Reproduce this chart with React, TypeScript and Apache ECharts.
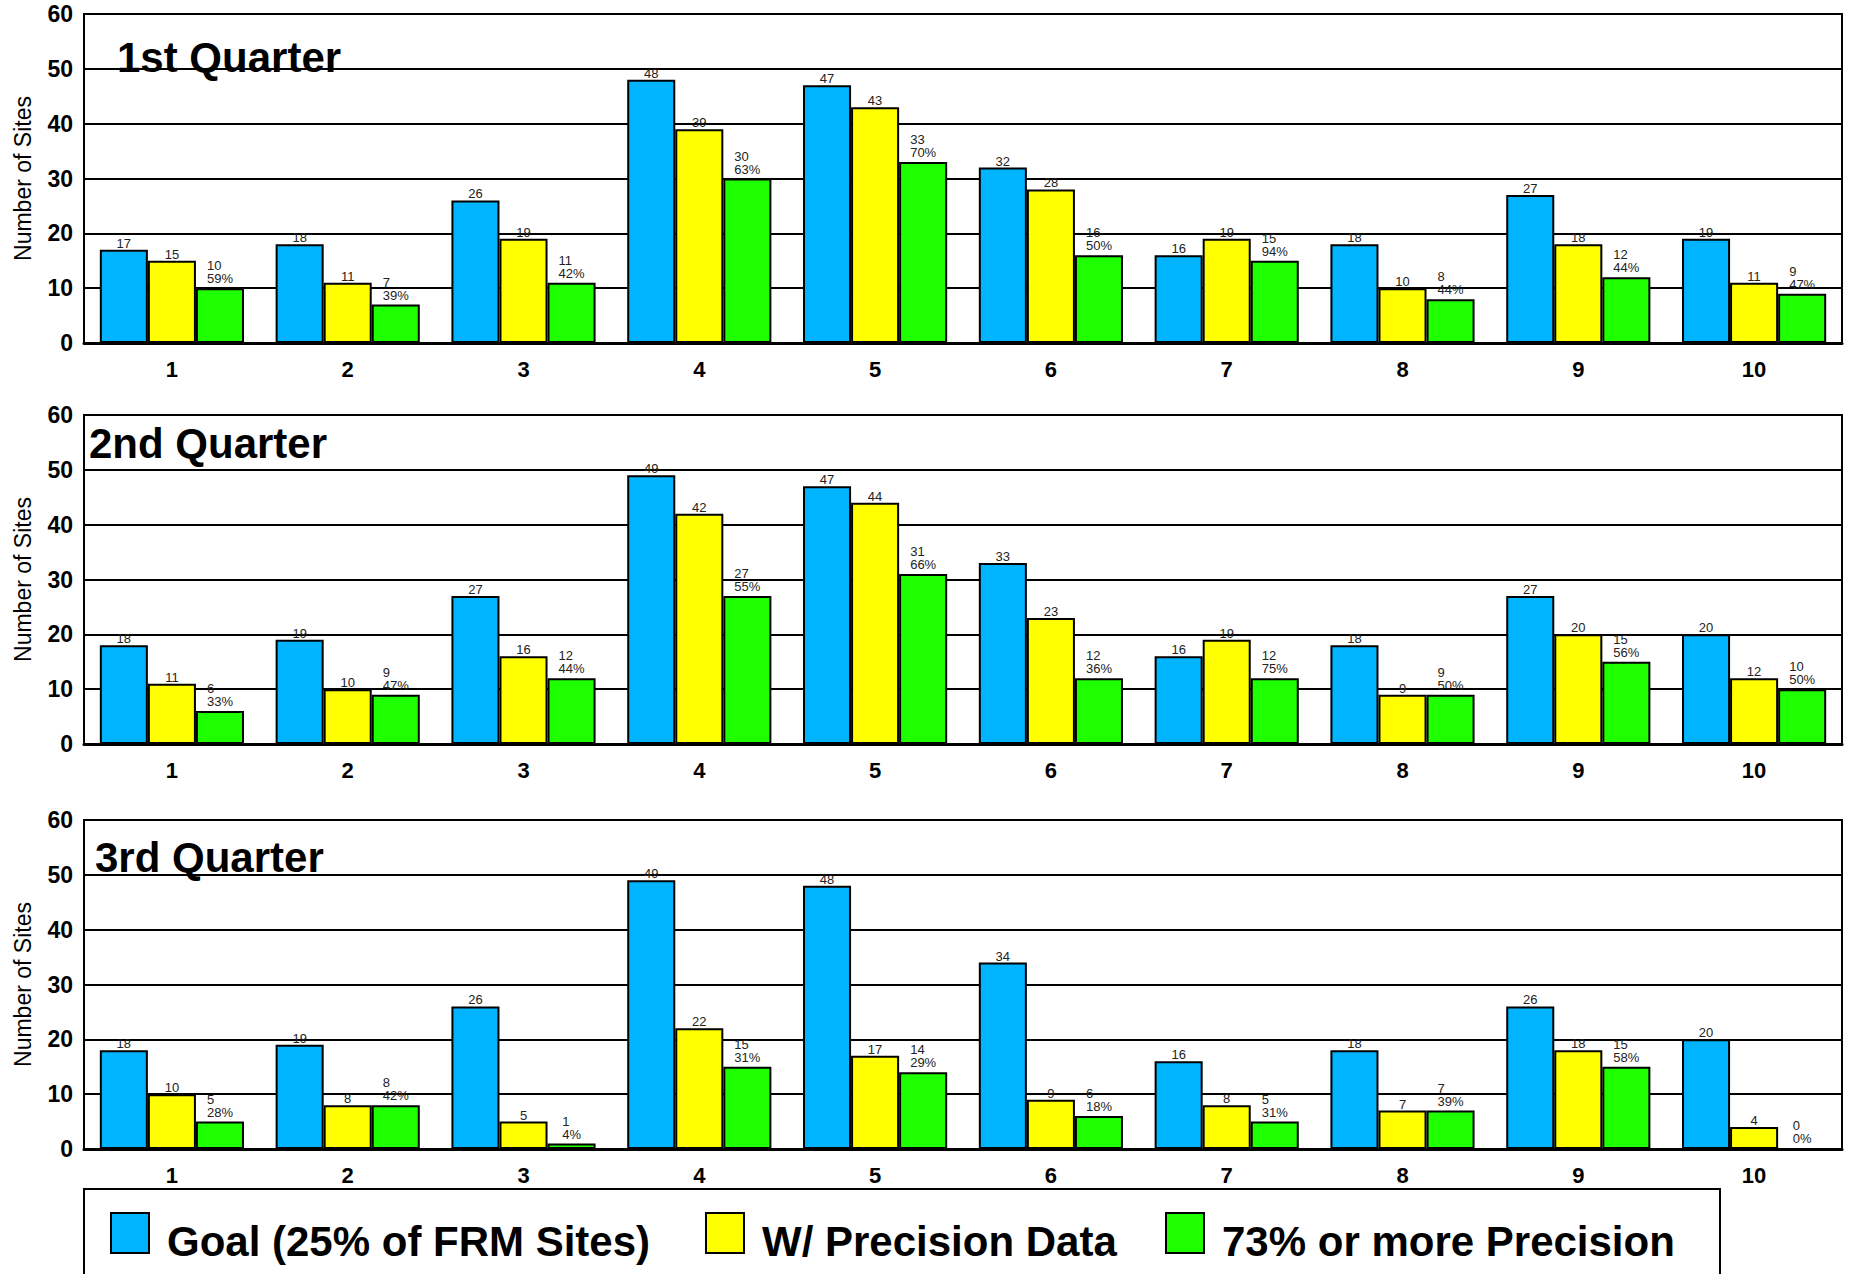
import React, { useEffect, useRef } from "react";
import * as echarts from "echarts";

// ---------- data ----------
const sites = ["1", "2", "3", "4", "5", "6", "7", "8", "9", "10"];
const quarterTitles = ["1st Quarter", "2nd Quarter", "3rd Quarter"];
const seriesNames = ["Goal (25% of FRM Sites)", "W/ Precision Data", "73% or more Precision"];
const yAxisTitle = "Number of Sites";

const q1Goal = [17, 18, 26, 48, 47, 32, 16, 18, 27, 19];
const q1Precision = [15, 11, 19, 39, 43, 28, 19, 10, 18, 11];
const q1High = [10, 7, 11, 30, 33, 16, 15, 8, 12, 9];
const q1Pct = [59, 39, 42, 63, 70, 50, 94, 44, 44, 47];

const q2Goal = [18, 19, 27, 49, 47, 33, 16, 18, 27, 20];
const q2Precision = [11, 10, 16, 42, 44, 23, 19, 9, 20, 12];
const q2High = [6, 9, 12, 27, 31, 12, 12, 9, 15, 10];
const q2Pct = [33, 47, 44, 55, 66, 36, 75, 50, 56, 50];

const q3Goal = [18, 19, 26, 49, 48, 34, 16, 18, 26, 20];
const q3Precision = [10, 8, 5, 22, 17, 9, 8, 7, 18, 4];
const q3High = [5, 8, 1, 15, 14, 6, 5, 7, 15, 0];
const q3Pct = [28, 42, 4, 31, 29, 18, 31, 39, 58, 0];

// ---------- layout / style ----------
const FONT = "Liberation Sans, Arial, sans-serif";
const COLORS = ["#00B4FF", "#FFFF00", "#1EFF00"];
const GRID_TOPS = [14, 415, 820];
const GRID_H = 329;
const GRID_LEFT = 84;
const GRID_RIGHT = 9;
const TITLE_POS = [
  { left: 117, top: 36 },
  { left: 89, top: 422 },
  { left: 95, top: 836 },
];
const LEGEND_LEFT = [110, 705, 1165];

const quarters = [
  { goal: q1Goal, prec: q1Precision, high: q1High, pct: q1Pct },
  { goal: q2Goal, prec: q2Precision, high: q2High, pct: q2Pct },
  { goal: q3Goal, prec: q3Precision, high: q3High, pct: q3Pct },
];

function buildOption(): echarts.EChartsOption {
  const grid = GRID_TOPS.map((top) => ({
    left: GRID_LEFT,
    right: GRID_RIGHT,
    top,
    height: GRID_H,
    show: true,
    borderColor: "#000",
    borderWidth: 2,
    backgroundColor: "transparent",
    containLabel: false,
  }));

  const xAxis = GRID_TOPS.map((_, i) => ({
    type: "category" as const,
    gridIndex: i,
    data: sites,
    axisTick: { show: false },
    axisLine: { show: true, lineStyle: { color: "#000", width: 3 } },
    axisLabel: {
      margin: 15,
      fontSize: 22,
      fontWeight: "bold" as const,
      color: "#000",
      fontFamily: FONT,
    },
    splitLine: { show: false },
  }));

  const yAxis = GRID_TOPS.map((_, i) => ({
    type: "value" as const,
    gridIndex: i,
    min: 0,
    max: 60,
    interval: 10,
    name: yAxisTitle,
    nameLocation: "middle" as const,
    nameRotate: 90,
    nameGap: 50,
    nameTextStyle: { fontSize: 23, color: "#000", fontFamily: FONT },
    axisLine: { show: true, lineStyle: { color: "#000", width: 2 } },
    axisTick: { show: false },
    axisLabel: {
      margin: 11,
      fontSize: 23,
      fontWeight: "bold" as const,
      color: "#000",
      fontFamily: FONT,
    },
    splitLine: { show: true, lineStyle: { color: "#000", width: 2 } },
  }));

  const series: any[] = [];
  quarters.forEach((q, i) => {
    const common = {
      type: "bar",
      xAxisIndex: i,
      yAxisIndex: i,
      barGap: "0%",
      barCategoryGap: "18%",
    };
    series.push({
      ...common,
      name: seriesNames[0],
      data: q.goal,
      itemStyle: { color: COLORS[0], borderColor: "#000", borderWidth: 2 },
      label: {
        show: true,
        position: "top",
        distance: 0,
        fontSize: 13,
        color: "#222",
        fontFamily: FONT,
      },
    });
    series.push({
      ...common,
      name: seriesNames[1],
      data: q.prec,
      itemStyle: { color: COLORS[1], borderColor: "#000", borderWidth: 2 },
      label: {
        show: true,
        position: "top",
        distance: 0,
        fontSize: 13,
        color: "#222",
        fontFamily: FONT,
      },
    });
    series.push({
      ...common,
      name: seriesNames[2],
      data: q.high.map((v, j) => ({ value: v, pct: q.pct[j] })),
      itemStyle: { color: COLORS[2], borderColor: "#000", borderWidth: 2 },
      label: {
        show: true,
        position: "top",
        distance: 3,
        formatter: (p: any) => `{a|${p.value}}\n{a|${p.data.pct}%}`,
        rich: {
          a: {
            fontSize: 13,
            lineHeight: 13,
            color: "#222",
            align: "left",
            fontFamily: FONT,
          },
        },
      },
    });
  });

  const title = quarterTitles.map((t, i) => ({
    text: t,
    left: TITLE_POS[i].left,
    top: TITLE_POS[i].top,
    padding: 0,
    textStyle: {
      fontSize: 42,
      fontWeight: "bold" as const,
      color: "#000",
      fontFamily: FONT,
    },
  }));

  const legend = seriesNames.map((n, i) => ({
    data: [n],
    left: LEGEND_LEFT[i],
    top: 1212,
    padding: 0,
    itemWidth: 38,
    itemHeight: 40,
    selectedMode: false,
    icon: "rect",
    formatter: (name: string) => `{s| }{t|${name}}`,
    textStyle: {
      fontSize: 42,
      fontWeight: "bold" as const,
      color: "#000",
      fontFamily: FONT,
      rich: {
        s: { width: 13, height: 58, fontSize: 10 },
        t: {
          fontSize: 42,
          lineHeight: 42,
          fontWeight: "bold",
          color: "#000",
          fontFamily: FONT,
          verticalAlign: "bottom",
        },
      },
    },
  }));

  return {
    animation: false,
    backgroundColor: "#fff",
    textStyle: { fontFamily: FONT },
    title,
    legend,
    grid,
    xAxis,
    yAxis,
    series,
    graphic: [
      {
        type: "rect",
        shape: { x: 84, y: 1189, width: 1636, height: 140 },
        style: { fill: "transparent", stroke: "#000", lineWidth: 2 },
        z: -1,
      },
    ],
  } as any;
}

export default function App() {
  const ref = useRef<HTMLDivElement>(null);
  useEffect(() => {
    if (!ref.current) return;
    const chart = echarts.init(ref.current, undefined, { renderer: "svg" });
    chart.setOption(buildOption());
    return () => chart.dispose();
  }, []);
  return (
    <div
      ref={ref}
      style={{ position: "absolute", left: 0, top: 0, width: 1851, height: 1274, background: "#fff" }}
    />
  );
}
